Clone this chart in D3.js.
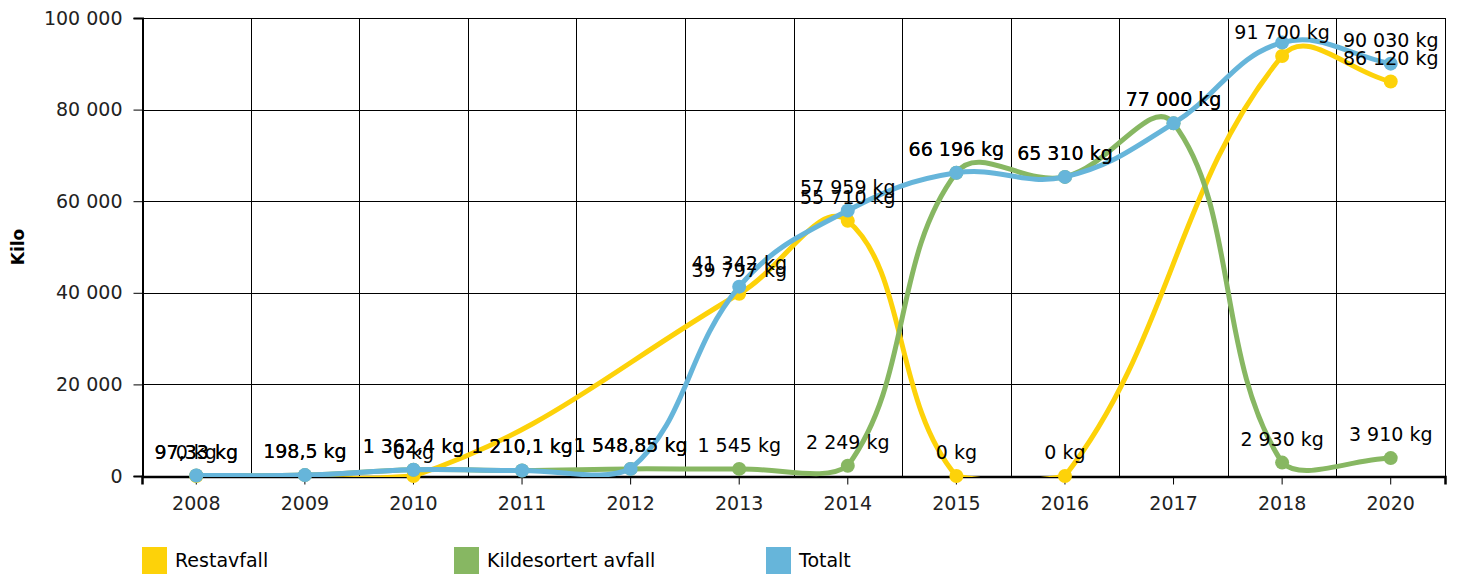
<!DOCTYPE html>
<html>
<head>
<meta charset="utf-8">
<script src="https://cdn.jsdelivr.net/npm/d3@7"></script>
<style>
  html, body { margin: 0; padding: 0; background: #fff; }
  svg { display: block; }
  svg text { font-family: "DejaVu Sans", Verdana, sans-serif; }
</style>
</head>
<body>
<svg id="chart" width="1460" height="579"></svg>
<script>
// data
const years = ["2008", "2009", "2010", "2011", "2012", "2013", "2014", "2015", "2016", "2017", "2018", "2020"];
const restavfall = [0, null, 0, null, null, 39797, 55710, 0, 0, null, 91700, 86120];
const kildesortert = [97.33, 198.5, 1362.4, 1210.1, 1548.85, 1545, 2249, 66196, 65310, 77000, 2930, 3910];
const totalt = [97.33, 198.5, 1362.4, 1210.1, 1548.85, 41342, 57959, 66196, 65310, 77000, 94630, 90030];
const yTicks = [0, 20000, 40000, 60000, 80000, 100000];

const series = [
  { name: "Restavfall", color: "#fdd209", values: restavfall },
  { name: "Kildesortert avfall", color: "#87b762", values: kildesortert },
  { name: "Totalt", color: "#66b5da", values: totalt }
];

const width = 1460,
  height = 579;
const margin = { top: 18, right: 15, bottom: 103, left: 142 };
const fontSize = "19px";
const tension = 0.4;

const svg = d3.select("#chart");

const nb = d3.formatLocale({ decimal: ",", thousands: " ", grouping: [3], currency: ["", ""] });
const fmt = nb.format(",");

const x = d3
  .scaleBand()
  .domain(years)
  .range([margin.left, width - margin.right])
  .paddingInner(0)
  .paddingOuter(0);

const y = d3
  .scaleLinear()
  .domain([0, 100000])
  .range([height - margin.bottom, margin.top]);

const cx = (i) => x(years[i]) + x.bandwidth() / 2;
const plotTop = y(100000),
  plotBottom = y(0);

// grid
const grid = svg.append("g").attr("class", "grid");
grid
  .selectAll("line.h")
  .data(yTicks)
  .join("line")
  .attr("class", "h")
  .attr("x1", margin.left)
  .attr("x2", width - margin.right)
  .attr("y1", (d) => Math.round(y(d)) + 0.5)
  .attr("y2", (d) => Math.round(y(d)) + 0.5)
  .attr("stroke", "#000")
  .attr("stroke-width", 1);

const bounds = years.map((d) => x(d)).concat([x(years[years.length - 1]) + x.bandwidth()]);
grid
  .selectAll("line.v")
  .data(bounds)
  .join("line")
  .attr("class", "v")
  .attr("x1", (d) => Math.round(d) + 0.5)
  .attr("x2", (d) => Math.round(d) + 0.5)
  .attr("y1", plotTop)
  .attr("y2", plotBottom)
  .attr("stroke", "#000")
  .attr("stroke-width", 1);

// spline: control points along the neighbour chord, scaled by the distances,
// kept inside the drawing area (which reaches a little below the zero line)
function splinePath(pts) {
  const capTop = plotTop,
    capBottom = plotBottom + 6;
  const cap = (v) => Math.max(capTop, Math.min(capBottom, v));
  const ctl = pts.map((p, i) => {
    const prev = pts[i - 1] || p,
      next = pts[i + 1] || p;
    const d01 = Math.hypot(p[0] - prev[0], p[1] - prev[1]),
      d12 = Math.hypot(next[0] - p[0], next[1] - p[1]);
    let s01 = d01 / (d01 + d12),
      s12 = d12 / (d01 + d12);
    if (isNaN(s01)) s01 = 0;
    if (isNaN(s12)) s12 = 0;
    const fa = tension * s01,
      fb = tension * s12;
    return {
      lx: p[0] - fa * (next[0] - prev[0]),
      ly: cap(p[1] - fa * (next[1] - prev[1])),
      rx: p[0] + fb * (next[0] - prev[0]),
      ry: cap(p[1] + fb * (next[1] - prev[1]))
    };
  });
  const path = d3.path();
  pts.forEach((p, i) => {
    if (i === 0) path.moveTo(p[0], p[1]);
    else path.bezierCurveTo(ctl[i - 1].rx, ctl[i - 1].ry, ctl[i].lx, ctl[i].ly, p[0], p[1]);
  });
  return path.toString();
}

svg
  .append("clipPath")
  .attr("id", "plot-clip")
  .append("rect")
  .attr("x", margin.left)
  .attr("y", plotTop - 3)
  .attr("width", width - margin.left - margin.right)
  .attr("height", plotBottom - plotTop + 4);

const seriesG = svg.append("g");
series.forEach((s) => {
  const pts = s.values
    .map((v, i) => (v === null ? null : { i, v, px: cx(i), py: y(v) }))
    .filter((d) => d !== null);
  s.pts = pts;
  const g = seriesG.append("g");
  g.append("path")
    .attr("clip-path", "url(#plot-clip)")
    .attr("d", splinePath(pts.map((d) => [d.px, d.py])))
    .attr("fill", "none")
    .attr("stroke", s.color)
    .attr("stroke-width", 5)
    .attr("stroke-linejoin", "round")
    .attr("stroke-linecap", "round");
  g.selectAll("circle")
    .data(pts)
    .join("circle")
    .attr("cx", (d) => d.px)
    .attr("cy", (d) => d.py)
    .attr("r", 7)
    .attr("fill", s.color);
});

// y axis
const yAxis = svg
  .append("g")
  .attr("transform", `translate(${margin.left + 0.5},0)`)
  .call(d3.axisLeft(y).tickValues(yTicks).tickFormat(fmt).tickSize(9).tickPadding(11))
  .attr("font-family", null)
  .attr("font-size", null);
yAxis.select(".domain").attr("stroke", "#000").attr("stroke-width", 2);
yAxis.selectAll(".tick line").attr("stroke", "#000");
yAxis.selectAll(".tick text").attr("fill", "#222").style("font-size", fontSize);

svg
  .append("text")
  .attr("transform", `translate(24,${(plotTop + plotBottom) / 2}) rotate(-90)`)
  .attr("text-anchor", "middle")
  .style("font-size", "17px")
  .style("font-weight", "bold")
  .attr("fill", "#000")
  .text("Kilo");

// x axis, ticks at the category centres
const xAxis = svg
  .append("g")
  .attr("transform", `translate(0,${plotBottom + 0.5})`)
  .call(d3.axisBottom(x).tickSize(8).tickPadding(12))
  .attr("font-family", null)
  .attr("font-size", null);
xAxis.select(".domain").attr("stroke", "#000").attr("stroke-width", 2.5);
xAxis.selectAll(".tick line").attr("stroke", "#000");
xAxis.selectAll(".tick text").attr("fill", "#222").style("font-size", fontSize);

// markers drawn above the axis line
seriesG.raise();

// data labels (hidden when they would leave the plot area)
const labelG = svg.append("g");
series.forEach((s) => {
  labelG
    .selectAll(null)
    .data(s.pts.filter((d) => d.py - 34 >= plotTop))
    .join("text")
    .attr("x", (d) => d.px)
    .attr("y", (d) => d.py - 17)
    .attr("text-anchor", "middle")
    .attr("fill", "#000")
    .style("font-size", fontSize)
    .text((d) => fmt(d.v) + " kg");
});

// legend
const legend = svg
  .append("g")
  .selectAll("g")
  .data(series)
  .join("g")
  .attr("transform", (d, i) => `translate(${margin.left + i * 312},547)`);
legend.append("rect").attr("width", 25).attr("height", 27).attr("fill", (d) => d.color);
legend
  .append("text")
  .attr("x", 33)
  .attr("y", 20)
  .attr("fill", "#000")
  .style("font-size", fontSize)
  .text((d) => d.name);
</script>
</body>
</html>
